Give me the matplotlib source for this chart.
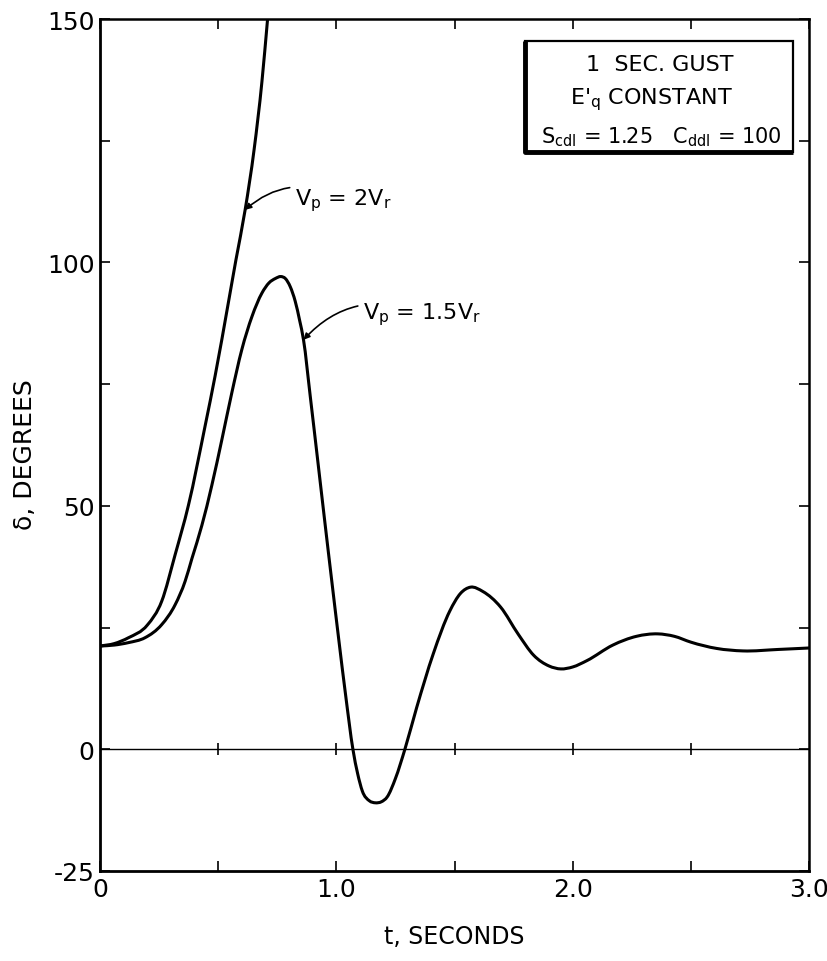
import numpy as np
from matplotlib import pyplot as plt
from matplotlib.patches import Rectangle, PathPatch
from matplotlib.path import Path

plt.rcParams['font.family'] = ['DejaVu Sans']
plt.rcParams['mathtext.fontset'] = 'dejavusans'

# curve Vp = 1.5 Vr
t_15 = [0, 0.06, 0.12, 0.19, 0.261, 0.318, 0.36, 0.389, 0.431, 0.473, 0.516, 0.558,
        0.6, 0.643, 0.685, 0.715, 0.742, 0.765, 0.784, 0.805, 0.826, 0.845, 0.861,
        0.89, 0.92, 0.95, 0.98, 1.01, 1.04, 1.07, 1.09, 1.11, 1.14, 1.165, 1.19,
        1.215, 1.25, 1.29, 1.34, 1.41, 1.48, 1.525, 1.568, 1.62, 1.695, 1.77, 1.835,
        1.9, 1.95, 2.0, 2.06, 2.17, 2.27, 2.36, 2.43, 2.5, 2.61, 2.72, 2.87, 3.0]
d_15 = [21.2, 21.4, 21.9, 22.9, 25.6, 29.7, 34.5, 39.2, 46, 54.2, 63.7, 73.3,
        82.1, 88.9, 93.7, 95.8, 96.7, 97.1, 96.7, 95, 92, 88, 84.1,
        72.3, 59.8, 47.2, 34.8, 22.6, 10.8, 0, -5, -8.6, -10.6, -11, -10.8,
        -9.8, -6, 0, 8.6, 19.6, 28.4, 32, 33.3, 32.4, 29.2, 23.6, 19.3,
        17.1, 16.5, 16.9, 18.2, 21.4, 23.2, 23.7, 23.2, 22, 20.7, 20.2, 20.5, 20.8]

# curve Vp = 2 Vr (runs off the top)
t_2 = [0, 0.06, 0.12, 0.2, 0.261, 0.318, 0.374, 0.445, 0.487, 0.544, 0.575,
       0.614, 0.652, 0.685, 0.709]
d_2 = [21.2, 21.7, 22.9, 25.5, 30.4, 40, 50.1, 66.5, 76.7, 92, 100.5,
       110.8, 123.2, 137.1, 150]

x_ticks = [0, 0.5, 1.0, 1.5, 2.0, 2.5, 3.0]
x_labels = ['0', '', '1.0', '', '2.0', '', '3.0']
y_ticks = [-25, 0, 25, 50, 75, 100, 125, 150]
y_labels = ['-25', '0', '', '50', '', '100', '', '150']


def smooth_curve(x, y):
    # cubic hermite through the read points, drawn as bezier segments
    x = np.asarray(x, float)
    y = np.asarray(y, float)
    h = np.diff(x)
    d = np.diff(y) / h
    m = np.empty_like(y)
    m[0], m[-1] = d[0], d[-1]
    m[1:-1] = (h[1:] * d[:-1] + h[:-1] * d[1:]) / (h[:-1] + h[1:])
    verts = [(x[0], y[0])]
    codes = [Path.MOVETO]
    for i in range(len(x) - 1):
        verts += [(x[i] + h[i] / 3, y[i] + m[i] * h[i] / 3),
                  (x[i + 1] - h[i] / 3, y[i + 1] - m[i + 1] * h[i] / 3),
                  (x[i + 1], y[i + 1])]
        codes += [Path.CURVE4] * 3
    return Path(verts, codes)


fig = plt.figure(figsize=(8.28, 9.62), dpi=100)
ax = fig.add_axes([0.1208, 0.0936, 0.8563, 0.8856])

for tt, dd in [(t_2, d_2), (t_15, d_15)]:
    ax.add_patch(PathPatch(smooth_curve(tt, dd), fill=False, ec='black', lw=2.2,
                           capstyle='round', joinstyle='round'))

# zero line with its own little ticks
ax.axhline(0, color='black', lw=1.0)
ax.plot(x_ticks[1:-1], [0] * (len(x_ticks) - 2), '|', color='black', ms=8, mew=1.2)

ax.set_xlim(0, 3)
ax.set_ylim(-25, 150)
ax.set_xticks(x_ticks)
ax.set_xticklabels(x_labels)
ax.set_yticks(y_ticks)
ax.set_yticklabels(y_labels)
ax.tick_params(direction='in', top=True, right=True, length=7, width=1.2,
               labelsize=18, pad=4)
for side in ['left', 'bottom']:
    ax.spines[side].set_linewidth(2.0)
for side in ['top', 'right']:
    ax.spines[side].set_linewidth(1.8)

ax.set_xlabel('t, SECONDS', fontsize=17)
ax.xaxis.set_label_coords(0.5, -0.062)
ax.set_ylabel('δ, DEGREES', fontsize=18)
ax.yaxis.set_label_coords(-0.089, 0.49)

# curve labels
ax.annotate(r'V$_\mathrm{p}$ = 2V$_\mathrm{r}$', xy=(0.614, 110.8), xytext=(0.826, 113),
            fontsize=16, va='center', ha='left',
            arrowprops=dict(arrowstyle='-|>', connectionstyle='arc3,rad=0.35',
                            color='black', lw=1.2, mutation_scale=9, shrinkA=2, shrinkB=0))
ax.annotate(r'V$_\mathrm{p}$ = 1.5V$_\mathrm{r}$', xy=(0.861, 84.1), xytext=(1.114, 89.5),
            fontsize=16, va='center', ha='left',
            arrowprops=dict(arrowstyle='-|>', connectionstyle='arc3,rad=0.35',
                            color='black', lw=1.2, mutation_scale=9, shrinkA=2, shrinkB=0))

# info box
bx0, bx1, by0, by1 = 0.599, 0.977, 0.844, 0.974
ax.add_patch(Rectangle((bx0, by0), bx1 - bx0, by1 - by0, transform=ax.transAxes,
                       fill=False, lw=1.6, color='black'))
ax.plot([bx0, bx0, bx1], [by1, by0, by0], transform=ax.transAxes, color='black',
        lw=3.5, solid_capstyle='butt')
ax.text(0.79, 0.947, '1  SEC. GUST', transform=ax.transAxes, fontsize=16,
        ha='center', va='center')
ax.text(0.778, 0.906, r"E$'_\mathrm{q}$ CONSTANT", transform=ax.transAxes, fontsize=16,
        ha='center', va='center')
ax.text(0.792, 0.863, r'S$_\mathrm{cdl}$ = 1.25   C$_\mathrm{ddl}$ = 100',
        transform=ax.transAxes, fontsize=15, ha='center', va='center')

plt.savefig('out.png', dpi=100)
